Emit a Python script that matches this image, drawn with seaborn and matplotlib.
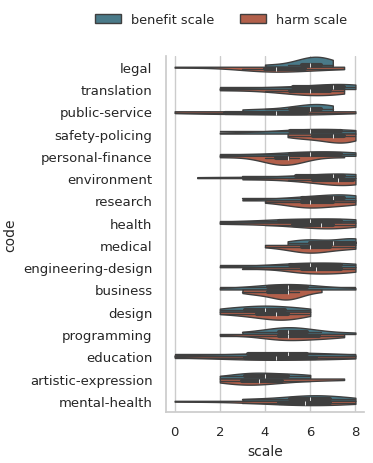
import pandas as pd
import seaborn as sns
import matplotlib.pyplot as plt

codes = ['legal', 'translation', 'public-service', 'safety-policing',
         'personal-finance', 'environment', 'research', 'health', 'medical',
         'engineering-design', 'business', 'design', 'programming',
         'education', 'artistic-expression', 'mental-health']

# ratings per code (same order as codes)
benefit_scores = [
    [4, 5, 5.5, 6, 6, 6, 6.5, 6.5, 7, 7],
    [2, 4, 5, 6, 7, 7, 7.5, 7.5, 8, 8],
    [3, 4, 5, 5.5, 6, 6, 6.5, 6.5, 7, 7],
    [2, 4, 5, 5.5, 6, 6, 7, 7.5, 8, 8],
    [2, 3.5, 5, 5.5, 6, 6, 7, 7.5, 8, 8],
    [1, 3, 5, 6.5, 7, 7, 7.5, 7.5, 8, 8],
    [3, 5, 5.5, 6, 7, 7, 7.5, 7.5, 8, 8],
    [2, 4, 4.5, 5, 6, 6, 7, 7.5, 8, 8],
    [5, 5.5, 6, 6, 6.5, 7.5, 8, 8, 8, 8],
    [2, 4, 5, 5.5, 6, 6, 7, 7.5, 8, 8],
    [2, 3.5, 4, 4.5, 5, 5, 5.5, 6, 6.5, 8],
    [2, 2.5, 3, 3.5, 4, 4, 4.5, 5, 5.5, 6],
    [3, 4, 4.5, 5, 5, 5, 5.5, 6, 6.5, 8],
    [0, 2, 3, 4, 5, 5, 5.5, 6, 7, 8],
    [2, 3, 3, 3.5, 4, 4, 5, 5, 6, 6],
    [3, 4, 5, 5.5, 6, 6, 6.5, 7, 7.5, 8],
]
harm_scores = [
    [0, 3, 4, 4, 4.5, 4.5, 5, 6, 7, 7.5],
    [2, 4, 5, 5.5, 6, 6, 6.5, 7, 7.5, 7.5],
    [0, 1, 2, 3, 4, 5, 5.5, 6, 7, 8],
    [5, 5.5, 6, 6.5, 7, 7, 7.5, 7.5, 8, 8],
    [2, 4, 4.5, 4.5, 5, 5, 5, 5, 5.5, 7.5],
    [3, 5, 6, 6.5, 7, 7.5, 7.5, 8, 8, 8],
    [4, 5, 5.5, 6, 6, 6, 7, 7, 8, 8],
    [2, 4, 5, 6, 6.5, 6.5, 7, 7, 8, 8],
    [4, 5, 5.5, 6, 6, 6, 6.5, 7, 8, 8],
    [3, 5, 5.5, 6, 6, 6.5, 7, 7.5, 8, 8],
    [3, 3.5, 4, 4.5, 5, 5, 5, 5, 5.5, 6.5],
    [2, 3, 3.5, 4, 4.5, 4.5, 5, 5, 5.5, 6],
    [2, 4, 4.5, 5, 5, 5, 6, 6.5, 7, 7.5],
    [0, 2, 3, 3.5, 4, 5, 5.5, 6.5, 7.5, 8],
    [2, 2.5, 3, 3, 3.5, 4, 4, 5, 6, 7.5],
    [0, 3, 4.5, 5, 5.5, 6, 6.5, 7, 8, 8],
]

rows = []
for code, b, h in zip(codes, benefit_scores, harm_scores):
    for v in b:
        rows.append({'code': code, 'variable': 'benefit scale', 'scale': v})
    for v in h:
        rows.append({'code': code, 'variable': 'harm scale', 'scale': v})
df = pd.DataFrame(rows)

sns.set_theme(style="whitegrid")

fig, ax = plt.subplots(figsize=(3.73, 4.64), dpi=100)
fig.subplots_adjust(left=0.444, right=0.977, top=0.878, bottom=0.110)

palette = sns.diverging_palette(220, 20, n=2)
sns.violinplot(data=df, x='scale', y='code', hue='variable', order=codes,
               split=True, cut=0, inner='box', palette=palette, linewidth=1,
               width=0.9, inner_kws=dict(box_width=3, whis_width=1), ax=ax)

ax.set_xticks([0, 2, 4, 6, 8])
ax.set_xlabel('scale', fontsize=10)
ax.set_ylabel('code', fontsize=10)
ax.tick_params(labelsize=9.5)
sns.despine(ax=ax)
sns.move_legend(ax, "lower center", bbox_to_anchor=(0.28, 1.05), ncol=2,
                title=None, frameon=False, fontsize=9.25)

plt.savefig('out.png', dpi=100)
